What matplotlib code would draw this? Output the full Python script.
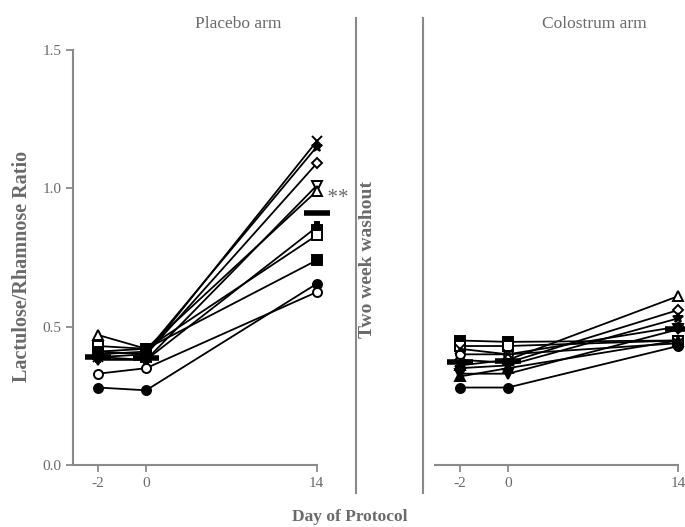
import numpy as np
import matplotlib
matplotlib.use("Agg")
import matplotlib.pyplot as plt
from matplotlib.lines import Line2D

# ---------------- data ----------------
days = [-2, 0, 14]
day_labels = ["-2", "0", "14"]
yticks = [0.0, 0.5, 1.0, 1.5]
ytick_labels = ["0.0", "0.5", "1.0", "1.5"]

placebo_markers = ["x", "*", "D", "v", "^", "P", "s", "s", "o", "o"]
placebo_filled  = [True, True, False, False, False, True, False, True, True, False]
placebo_day_m2 = [0.39, 0.40, 0.41, 0.38, 0.47, 0.39, 0.43, 0.41, 0.28, 0.33]
placebo_day_0  = [0.40, 0.41, 0.40, 0.38, 0.42, 0.38, 0.42, 0.42, 0.27, 0.35]
placebo_day_14 = [1.17, 1.15, 1.09, 1.01, 0.99, 0.86, 0.83, 0.74, 0.655, 0.625]

colostrum_markers = ["^", "D", "*", "o", "v", "s", "s", "x", "^", "o"]
colostrum_filled  = [False, False, True, False, True, True, False, True, True, True]
colostrum_day_m2 = [0.36, 0.38, 0.35, 0.40, 0.33, 0.45, 0.43, 0.42, 0.32, 0.28]
colostrum_day_0  = [0.38, 0.37, 0.36, 0.40, 0.33, 0.445, 0.43, 0.40, 0.35, 0.28]
colostrum_day_14 = [0.61, 0.56, 0.53, 0.50, 0.49, 0.45, 0.45, 0.44, 0.45, 0.43]

# ---------------- style ----------------
plt.rcParams['font.family'] = ['Liberation Serif', 'DejaVu Serif']
GRAY = "#6a6a6a"
SPINE = "#8a8a8a"

fig = plt.figure(figsize=(6.85, 5.27), dpi=100)

def fwd(x):
    x = np.asarray(x, dtype=float)
    return np.where(x <= 0, x, x * 0.506)

def inv(y):
    y = np.asarray(y, dtype=float)
    return np.where(y <= 0, y, y / 0.506)

def panel(ax, m2, d0, d14, markers, filled, show_y):
    ax.set_xscale('function', functions=(fwd, inv))
    for i in range(len(m2)):
        vals = [m2[i], d0[i], d14[i]]
        fc = 'black' if filled[i] else 'white'
        ms = 7.5 if markers[i] in ('x', '*') else 6.5
        if markers[i] == 'D':
            ms = 5.5
        ax.plot(days, vals, color='black', lw=1.3, marker=markers[i],
                ms=ms, mfc=fc, mec='black', mew=1.4, zorder=3, clip_on=False)
    means = [np.mean(m2), np.mean(d0), np.mean(d14)]
    ax.plot(days, means, ls='none', marker='_', ms=19, mew=4, color='black',
            zorder=4, clip_on=False)
    ax.set_ylim(0, 1.5)
    ax.set_xlim(-3.04, 14)
    ax.set_xticks(days)
    ax.set_xticklabels(day_labels)
    ax.set_yticks(yticks)
    ax.set_yticklabels(ytick_labels)
    ax.minorticks_off()
    for s in ['top', 'right']:
        ax.spines[s].set_visible(False)
    ax.spines['bottom'].set_color(SPINE)
    ax.spines['bottom'].set_linewidth(1.5)
    ax.spines['left'].set_color(SPINE)
    ax.spines['left'].set_linewidth(1.5)
    ax.tick_params(axis='both', colors=SPINE, labelcolor=GRAY, labelsize=11,
                   length=5, width=1.3, direction='out')
    if not show_y:
        ax.spines['left'].set_visible(False)
        ax.tick_params(axis='y', left=False, labelleft=False)
    ax.patch.set_alpha(0)

ax1 = fig.add_axes([73/685, 1 - 465/527, 243.7/685, 415/527])
panel(ax1, placebo_day_m2, placebo_day_0, placebo_day_14,
      placebo_markers, placebo_filled, True)
ax2 = fig.add_axes([435/685, 1 - 465/527, 243/685, 415/527])
panel(ax2, colostrum_day_m2, colostrum_day_0, colostrum_day_14,
      colostrum_markers, colostrum_filled, False)

ax1.text(14, np.mean(placebo_day_14) + 0.05, "  **", color=GRAY, fontsize=15,
         ha='left', va='center')

# separators
for xp in (356, 423):
    fig.add_artist(Line2D([xp/685, xp/685], [1 - 18/527, 1 - 493/527],
                          color=SPINE, lw=1.5))

fig.text(238/685, 1 - 24/527, "Placebo arm", ha='center', va='center',
         fontsize=12.5, color=GRAY)
fig.text(594/685, 1 - 24/527, "Colostrum arm", ha='center', va='center',
         fontsize=12.5, color=GRAY)
fig.text(22/685, 1 - 266/527, "Lactulose/Rhamnose Ratio", rotation=90,
         ha='center', va='center', fontsize=14.5, fontweight='bold', color=GRAY)
fig.text(368/685, 1 - 260/527, "Two week washout", rotation=90,
         ha='center', va='center', fontsize=14, fontweight='bold', color=GRAY)
fig.text(350/685, 1 - 517/527, "Day of Protocol", ha='center', va='center',
         fontsize=12.5, fontweight='bold', color=GRAY)

fig.savefig("out.png", dpi=100)
